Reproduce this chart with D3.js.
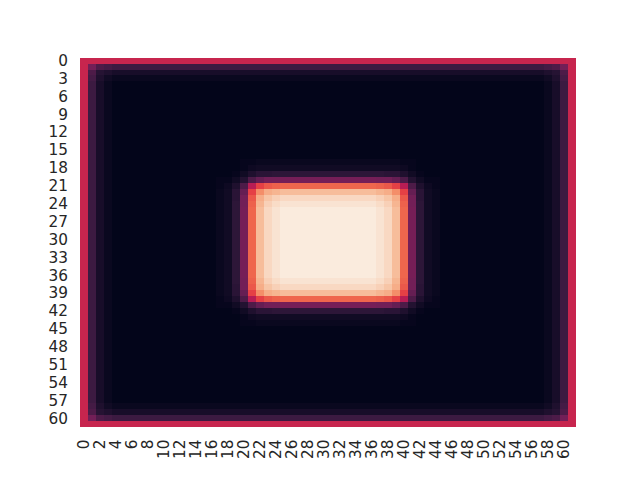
<!DOCTYPE html>
<html><head><meta charset="utf-8">
<script src="https://cdn.jsdelivr.net/npm/d3@7"></script>
<style>body{margin:0;background:#fff}svg{display:block}</style>
</head><body>
<svg id="chart" width="640" height="480"></svg>
<script>
// Cell values in percent, one string per row (run-length: "v*n" = v repeated n times)
const rowA = "50 16 6 2 0*13 0 0 0 1 1 2 2 2 2*12 2 2 2 1 1 0 0 0 0*13 2 6 16 50";
const rowB = "50 16 6 2 0*13 0 0 0 1 3 4 4 4 4*12 4 4 4 3 1 0 0 0 0*13 2 6 16 50";
const rowC = "50 16 6 2 0*13 0 0 1 4 8 11 11 12 12*12 12 11 11 8 4 1 0 0 0*13 2 6 16 50";
const rowD = "50 16 6 2 0*13 1 1 4 9 20 26 29 29 30*12 29 29 26 20 9 4 1 1 0*13 2 6 16 50";
const rowE = "50 16 6 2 0*13 1 3 8 20 46 60 65 67 68*12 67 65 60 46 20 8 3 1 0*13 2 6 16 50";
const rowF = "50 16 6 2 0*13 2 4 11 26 60 77 84 86 88*12 86 84 77 60 26 11 4 2 0*13 2 6 16 50";
const rowG = "50 16 6 2 0*13 2 4 11 29 65 84 90 93 95*12 93 90 84 65 29 11 4 2 0*13 2 6 16 50";
const rowH = "50 16 6 2 0*13 2 4 12 29 67 86 93 96 98*12 96 93 86 67 29 12 4 2 0*13 2 6 16 50";
const rowI = "50 16 6 2 0*13 2 4 12 30 68 88 95 98 100*12 98 95 88 68 30 12 4 2 0*13 2 6 16 50";
const rowEdge0 = "50*62";
const rowEdge1 = "50 29 20 18 16*54 18 20 29 50";
const rowEdge2 = "50 20 10 8 6*54 8 10 20 50";
const rowEdge3 = "50 18 8 4 2*54 4 8 18 50";
const rowPlain = "50 16 6 2 0*54 2 6 16 50";

const rows = [
  rowEdge0, rowEdge1, rowEdge2, rowEdge3,
  rowPlain, rowPlain, rowPlain, rowPlain, rowPlain, rowPlain, rowPlain,
  rowPlain, rowPlain, rowPlain, rowPlain, rowPlain, rowPlain,
  rowA, rowB, rowC, rowD, rowE, rowF, rowG, rowH,
  rowI, rowI, rowI, rowI, rowI, rowI, rowI, rowI, rowI, rowI, rowI, rowI,
  rowH, rowG, rowF, rowE, rowD, rowC, rowB, rowA,
  rowPlain, rowPlain, rowPlain, rowPlain, rowPlain, rowPlain, rowPlain,
  rowPlain, rowPlain, rowPlain, rowPlain, rowPlain, rowPlain,
  rowEdge3, rowEdge2, rowEdge1, rowEdge0
];

const xTicks = [0,2,4,6,8,10,12,14,16,18,20,22,24,26,28,30,32,34,36,38,40,42,44,46,48,50,52,54,56,58,60];
const yTicks = [0,3,6,9,12,15,18,21,24,27,30,33,36,39,42,45,48,51,54,57,60];

// seaborn "rocket" colormap stops
const rocketStops = ["#03051a","#35193e","#701f57","#ad1759","#e13342","#f37651","#f6b48f","#faebdd"];

function parseRow(s){
  const out=[];
  s.trim().split(/\s+/).forEach(t=>{
    const [v,n]=t.split("*");
    const k = n ? +n : 1;
    for(let i=0;i<k;i++) out.push(+v/100);
  });
  return out;
}
const matrix = rows.map(parseRow);
const nRows = matrix.length, nCols = matrix[0].length;

const svg = d3.select("#chart");
const plotL=80, plotR=576, plotT=57.6, plotB=427.2;

const x = d3.scaleBand().domain(d3.range(nCols)).range([plotL,plotR]).padding(0);
const y = d3.scaleBand().domain(d3.range(nRows)).range([plotT,plotB]).padding(0);
const color = d3.scaleLinear()
  .domain(rocketStops.map((c,i)=>i/(rocketStops.length-1)))
  .range(rocketStops).interpolate(d3.interpolateRgb).clamp(true);

const cells=[];
matrix.forEach((r,i)=>r.forEach((v,j)=>cells.push({i,j,v})));

svg.append("g").attr("shape-rendering","crispEdges")
  .selectAll("rect").data(cells).join("rect")
  .attr("x",d=>x(d.j)).attr("y",d=>y(d.i))
  .attr("width",d=>d.j===nCols-1?x.bandwidth():x.bandwidth()+0.5)
  .attr("height",d=>d.i===nRows-1?y.bandwidth():y.bandwidth()+0.5)
  .attr("fill",d=>color(d.v));

const font = "DejaVu Sans, sans-serif";
svg.append("g").selectAll("text").data(yTicks).join("text")
  .attr("x",68).attr("y",d=>y(d)+y.bandwidth()/2)
  .attr("dy","0.35em").attr("text-anchor","end")
  .attr("font-family",font).attr("font-size","15.3px").attr("fill","#262626")
  .text(d=>d);

svg.append("g").selectAll("text").data(xTicks).join("text")
  .attr("transform",d=>`translate(${x(d)+x.bandwidth()/2},439.5) rotate(-90)`)
  .attr("dy","0.35em").attr("text-anchor","end")
  .attr("font-family",font).attr("font-size","15.3px").attr("fill","#262626")
  .text(d=>d);
</script>
</body></html>
